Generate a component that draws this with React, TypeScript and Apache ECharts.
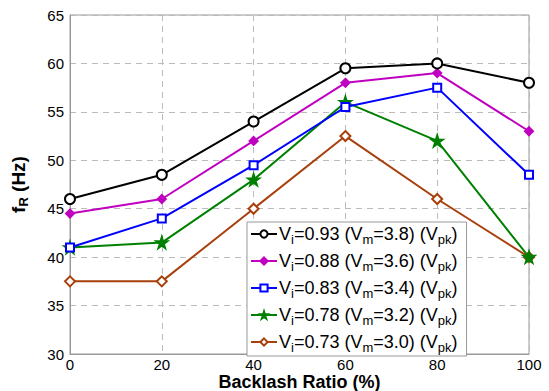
import React, { useEffect, useRef } from "react";
import * as echarts from "echarts";

const xCategories = [0, 20, 40, 60, 80, 100];
const v093 = [46, 48.5, 54, 59.5, 60, 58];
const v088 = [44.5, 46, 52, 58, 59, 53];
const v083 = [41, 44, 49.5, 55.5, 57.5, 48.5];
const v078 = [41, 41.5, 48, 56, 52, 40];
const v073 = [37.5, 37.5, 45, 52.5, 46, 40];

const names = [
  "V{sub|i}=0.93 (V{sub|m}=3.8) (V{sub|pk})",
  "V{sub|i}=0.88 (V{sub|m}=3.6) (V{sub|pk})",
  "V{sub|i}=0.83 (V{sub|m}=3.4) (V{sub|pk})",
  "V{sub|i}=0.78 (V{sub|m}=3.2) (V{sub|pk})",
  "V{sub|i}=0.73 (V{sub|m}=3.0) (V{sub|pk})",
];
const colors = ["#000000", "#c000c0", "#0000ff", "#008000", "#a8400c"];

const STAR =
  "path://M50,0 L61,35 L98,35 L68,57 L79,91 L50,70 L21,91 L32,57 L2,35 L39,35 Z";

export default function App() {
  const ref = useRef<HTMLDivElement>(null);
  useEffect(() => {
    const chart = echarts.init(ref.current!, null, { renderer: "svg" });
    const font = "Liberation Sans, Arial, sans-serif";
    const mk = (i: number, data: number[], symbol: string, size: number, hollow: boolean) => ({
      type: "line",
      name: names[i],
      data: xCategories.map((x, k) => [x, data[k]]),
      symbol,
      symbolSize: size,
      showSymbol: true,
      lineStyle: { color: colors[i], width: 2 },
      itemStyle: {
        color: hollow ? "#ffffff" : colors[i],
        borderColor: colors[i],
        borderWidth: 2,
      },
      z: 10 - i,
    });
    chart.setOption({
      animation: false,
      grid: { left: 70, top: 15, right: 20, bottom: 37, outerBoundsMode: "none", containLabel: false },
      xAxis: {
        type: "value",
        min: 0,
        max: 100,
        interval: 20,
        name: "Backlash Ratio (%)",
        nameLocation: "middle",
        nameGap: 28,
        nameMoveOverlap: false,
        nameTextStyle: { fontFamily: font, fontSize: 18, lineHeight: 18, fontWeight: "bold", color: "#000", verticalAlign: "middle" },
        axisLine: { lineStyle: { color: "#999" } },
        axisTick: { show: false },
        axisLabel: { fontFamily: font, fontSize: 15, lineHeight: 15, color: "#000", margin: 3 },
        splitLine: { show: true, lineStyle: { color: "#bbb", type: [6, 5], width: 1 } },
      },
      yAxis: {
        type: "value",
        min: 30,
        max: 65,
        interval: 5,
        name: "{b|f}{s|R}{b| (Hz)}",
        nameLocation: "middle",
        nameGap: 40,
        nameMoveOverlap: false,
        nameRotate: 90,
        nameTextStyle: {
          fontFamily: font,
          fontSize: 19,
          fontWeight: "bold",
          color: "#000",
          rich: {
            b: { fontFamily: font, fontSize: 19, fontWeight: "bold", color: "#000" },
            s: { fontFamily: font, fontSize: 13, fontWeight: "bold", color: "#000", padding: [10, 0, 0, 0] },
          },
        },
        axisLine: { show: true, lineStyle: { color: "#999" } },
        axisTick: { show: false },
        axisLabel: { fontFamily: font, fontSize: 15, color: "#000", margin: 6 },
        splitLine: { show: true, lineStyle: { color: "#bbb", type: [6, 5], width: 1 } },
      },
      graphic: [
        {
          type: "rect",
          shape: { x: 70, y: 15, width: 459, height: 339 },
          style: { fill: "none", stroke: "#999", lineWidth: 1 },
          silent: true,
          z: 0,
        },
      ],
      legend: {
        orient: "vertical",
        left: 247,
        top: 222,
        padding: [3, 9, 2, 3],
        itemGap: 6,
        itemWidth: 26,
        itemHeight: 9,
        backgroundColor: "#ffffff",
        borderColor: "#999",
        borderWidth: 1,
        borderRadius: 0,
        formatter: (n: string) => n,
        textStyle: {
          fontFamily: font,
          fontSize: 18,
          color: "#000",
          padding: [0, 0, 0, -3],
          rich: {
            sub: { fontFamily: font, fontSize: 13, color: "#000", padding: [11, 0, 0, 0] },
          },
        },
      },
      series: [
        mk(0, v093, "circle", 10, true),
        mk(1, v088, "diamond", 8, false),
        mk(2, v083, "rect", 8, true),
        mk(3, v078, STAR, 11, false),
        mk(4, v073, "diamond", 10, true),
      ],
    });
    return () => chart.dispose();
  }, []);
  return <div ref={ref} style={{ width: 549, height: 391, position: "absolute", left: 0, top: 0, background: "#fff" }} />;
}
